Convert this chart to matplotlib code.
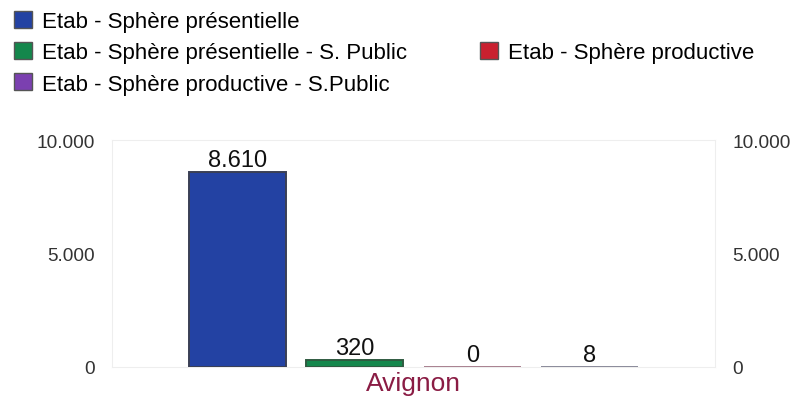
import matplotlib.pyplot as plt
from matplotlib.patches import Patch

plt.rcParams['font.family'] = ['Liberation Sans', 'DejaVu Sans']

category = 'Avignon'
series = ['Etab - Sphère présentielle',
          'Etab - Sphère présentielle - S. Public',
          'Etab - Sphère productive',
          'Etab - Sphère productive - S.Public']
values = [8610, 320, 0, 8]
value_labels = ['8.610', '320', '0', '8']
colors = ['#2342a3', '#14874c', '#c9202f', '#7b40b0']
edges = ['#3a3f55', '#2f5a40', '#a88090', '#8a8a9a']
yticks = [0, 5000, 10000]
ytick_labels = ['0', '5.000', '10.000']

fig = plt.figure(figsize=(7.91, 4.02), dpi=100)
ax = fig.add_axes([112 / 791, 1 - 368 / 402, 603 / 791, 227 / 402])

offsets = [-1.5, -0.5, 0.5, 1.5]
for off, v, c, e, lab in zip(offsets, values, colors, edges, value_labels):
    ax.bar(off, v, width=0.825, color=c, edgecolor=e, linewidth=1.4, zorder=3)
    ax.text(off, v + 40, lab, ha='center', va='bottom', fontsize=17, color='#111111')

ax.set_xlim(-2.566, 2.566)
ax.set_ylim(0, 10000)
ax.set_yticks(yticks)
ax.set_yticklabels(ytick_labels)
ax.set_xticks([0])
ax.set_xticklabels([category], color='#8a1c44', fontsize=19)
ax.tick_params(axis='x', length=0, pad=3)
ax.tick_params(axis='y', length=0, labelsize=13.7, labelcolor='#333333',
               labelright=True, pad=12.5)
for s in ax.spines.values():
    s.set_color('#eeeeee')
    s.set_linewidth(0.8)

handles = [Patch(facecolor=colors[0], edgecolor='#555555'),
           Patch(facecolor=colors[1], edgecolor='#555555'),
           Patch(facecolor=colors[3], edgecolor='#555555'),
           Patch(alpha=0),
           Patch(facecolor=colors[2], edgecolor='#555555'),
           Patch(alpha=0)]
labels = [series[0], series[1], series[3], '', series[2], '']
fig.legend(handles, labels, ncol=2, loc='upper left', bbox_to_anchor=(-0.002, 1.01),
           frameon=False, fontsize=16, handlelength=0.8, handleheight=0.8,
           handletextpad=0.45, labelspacing=0.46, columnspacing=3.3,
           borderaxespad=0.3)

fig.savefig('out.png', dpi=100)
